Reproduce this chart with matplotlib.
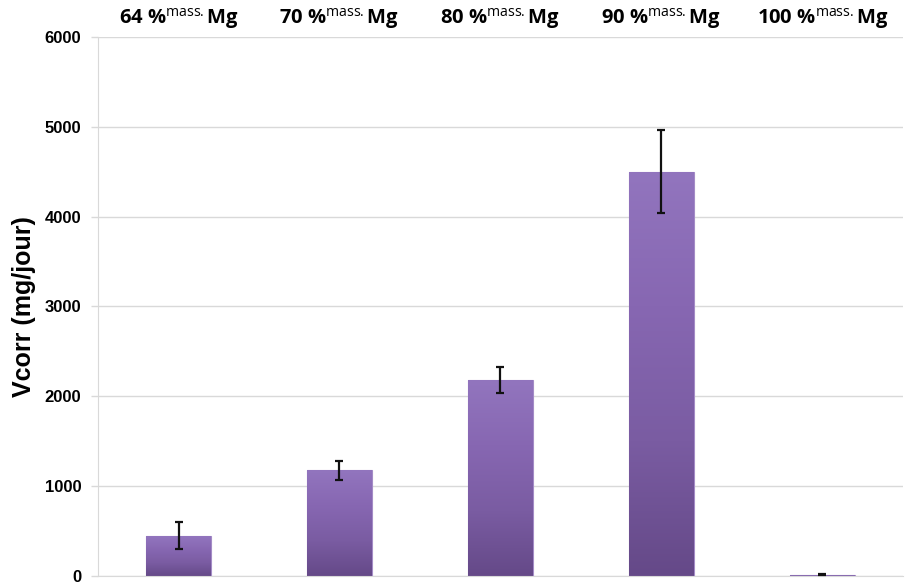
import numpy as np
import matplotlib
matplotlib.use("Agg")
import matplotlib.pyplot as plt
from matplotlib.colors import LinearSegmentedColormap

plt.rcParams["font.family"] = ["Open Sans", "DejaVu Sans"]
plt.rcParams["mathtext.fontset"] = "custom"
plt.rcParams["mathtext.rm"] = "Open Sans"

labels = ["64", "70", "80", "90", "100"]
vcorr = [445, 1175, 2175, 4500, 10]
err = [150, 105, 145, 460, 5]

fig = plt.figure(figsize=(9.11, 5.85), dpi=100)
ax = fig.add_axes([0.1076, 0.016, 0.8834, 0.9208])

x = np.arange(len(labels))
bars = ax.bar(x, vcorr, width=0.4, color="#8064A2", edgecolor="#A48CC6", linewidth=0.8, zorder=2)

# gradient inside the bars
cmap = LinearSegmentedColormap.from_list("purp", ["#654988", "#7A5CA2", "#8767B2", "#9275BE"])
grad = np.linspace(0, 1, 256).reshape(-1, 1)
for b in bars:
    bx, by = b.get_x(), b.get_y()
    w, h = b.get_width(), b.get_height()
    im = ax.imshow(grad, cmap=cmap, aspect="auto", origin="lower",
                   extent=[bx, bx + w, by, by + h], zorder=2.5)
    im.set_clip_path(b)

ax.errorbar(x, vcorr, yerr=err, fmt="none", ecolor="#111111", elinewidth=1.6,
            capsize=3, capthick=1.6, zorder=3)

ax.set_xlim(-0.5, len(labels) - 0.5)
ax.set_ylim(0, 6000)
ax.set_yticks(range(0, 6001, 1000))
ax.grid(axis="y", color="#D9D9D9", linewidth=1, zorder=0)
ax.set_axisbelow(True)

ax.xaxis.tick_top()
ax.set_xticks(x)
ax.set_xticklabels([lab + r" %$^{\mathrm{mass.}}$Mg" for lab in labels],
                   fontsize=14.5, fontweight="bold")
ax.tick_params(axis="x", length=0, pad=4)
ax.tick_params(axis="y", length=5, width=1, color="#D9D9D9", direction="out",
               labelsize=12, pad=7)
for t in ax.get_yticklabels():
    t.set_fontweight("bold")
    t.set_family("Liberation Sans")

for s in ["top", "right"]:
    ax.spines[s].set_visible(False)
ax.spines["bottom"].set_color("#D9D9D9")
ax.spines["left"].set_color("#D9D9D9")

ax.set_ylabel("Vcorr (mg/jour)", fontsize=18, fontweight="bold", family="Liberation Sans",
              labelpad=6)

fig.savefig("out.png", dpi=100)
